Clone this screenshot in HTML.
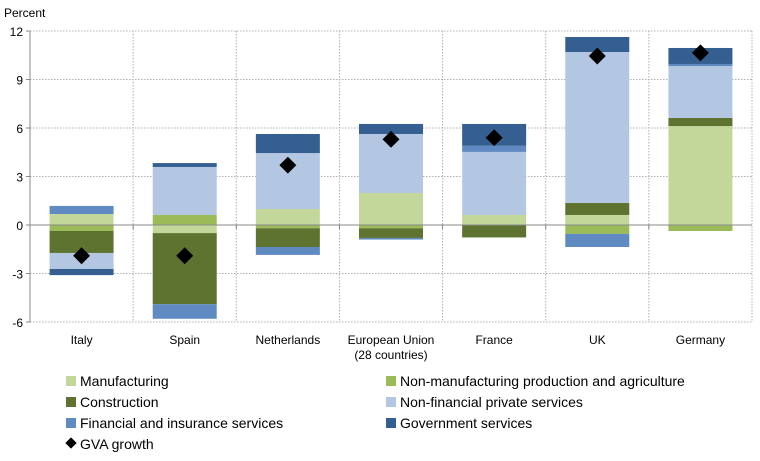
<!DOCTYPE html>
<html><head><meta charset="utf-8"><style>
body{margin:0;background:#fff;font-family:"Liberation Sans",Arial,sans-serif;}
svg text{font-family:"Liberation Sans",Arial,sans-serif;fill:#000;}
</style></head><body>
<svg id="chart" width="760" height="456" viewBox="0 0 760 456" xmlns="http://www.w3.org/2000/svg">
<text x="4" y="17" font-size="12">Percent</text>
<g id="grid"></g><g id="bars"></g><g id="axes"></g><g id="pts"></g><g id="legend"></g>
</svg>
<script>
const categories=["Italy","Spain","Netherlands","European Union|(28 countries)","France","UK","Germany"];
const manufacturing=[0.68,-0.5,0.99,1.98,0.62,0.62,6.12];
const nonManufacturing=[-0.37,0.62,-0.2,-0.2,-0.02,-0.55,-0.37];
const construction=[-1.36,-4.4,-1.16,-0.6,-0.75,0.74,0.5];
const nonFinancial=[-0.99,2.97,3.46,3.65,3.9,9.34,3.21];
const financial=[0.5,-0.9,-0.49,-0.1,0.38,-0.81,0.13];
const government=[-0.38,0.24,1.18,0.62,1.35,0.93,0.99];
const gvaGrowth=[-1.9,-1.9,3.7,5.3,5.4,10.45,10.65];
const yTicks=[-6,-3,0,3,6,9,12];
const seriesNames=["Manufacturing","Non-manufacturing production and agriculture","Construction","Non-financial private services","Financial and insurance services","Government services"];
const seriesColors=["#c4d79b","#9bbb59","#5e7330","#b3c7e2","#5f8bc2","#355f91"];
const seriesData=[manufacturing,nonManufacturing,construction,nonFinancial,financial,government];
const NS="http://www.w3.org/2000/svg";
const L=30,R=752,T=31,B=322,ymin=-6,ymax=12;
const y=v=>T+(ymax-v)/(ymax-ymin)*(B-T);
const band=(R-L)/categories.length;
const xc=i=>L+band*(i+0.5);
function mk(tag,attrs,parent){const e=document.createElementNS(NS,tag);for(const k in attrs)e.setAttribute(k,attrs[k]);document.getElementById(parent).appendChild(e);return e;}
yTicks.forEach(t=>{
 if(t!==0){const g=mk("line",{x1:L,x2:R,y1:y(t),y2:y(t),stroke:"#b0b0b0","stroke-dasharray":"1.5,1.5"},"grid");
 
 }
 const tk=mk("line",{x1:L-4,x2:L,y1:y(t),y2:y(t),stroke:"#888"},"axes");
 
 
 const tx=mk("text",{x:L-7,y:y(t)+5,"text-anchor":"end","font-size":"12"},"axes");tx.textContent=t;
 
 
});
for(let i=1;i<=categories.length;i++){const x=L+band*i;
 const g=mk("line",{x1:x,x2:x,y1:T,y2:B,stroke:"#b0b0b0","stroke-dasharray":"1.5,1.5"},"grid");
 
 
}
categories.forEach((c,i)=>{
 let pos=0,neg=0;
 seriesData.forEach((s,k)=>{const v=s[i];let a,b;
  if(v>=0){a=pos;b=pos+v;pos=b;}else{a=neg;b=neg+v;neg=b;}
  const r=mk("rect",{x:xc(i)-32,width:64,y:y(Math.max(a,b)),height:Math.abs(y(a)-y(b)),fill:seriesColors[k]},"bars");
  
  
 });
 const parts=c.split("|");
 parts.forEach((p,j)=>{const t=mk("text",{x:xc(i),y:344+j*15,"text-anchor":"middle","font-size":"12"},"axes");t.textContent=p;
  
  });
 const xt=mk("line",{x1:L+band*i,x2:L+band*i,y1:y(0),y2:y(0)+4,stroke:"#888"},"axes");
 
 
 const d=mk("rect",{x:xc(i)-6,y:y(gvaGrowth[i])-6,width:12,height:12,fill:"#000",transform:`rotate(45 ${xc(i)} ${y(gvaGrowth[i])})`},"pts");
 
 
});
const ax=mk("line",{x1:L,x2:L,y1:T,y2:B,stroke:"#888"},"axes");


const zx=mk("line",{x1:L,x2:R,y1:y(0),y2:y(0),stroke:"#888"},"axes");


seriesNames.forEach((n,k)=>{const col=k%2,row=Math.floor(k/2);const lx=col?386:66,ly=381+row*21;
 const s=mk("rect",{x:lx,y:ly-5,width:10,height:10,fill:seriesColors[k]},"legend");
 
 
 const t=mk("text",{x:lx+14,y:ly+5,"font-size":"14"},"legend");t.textContent=n;
 
 
});
const ld=mk("rect",{x:67,y:439,width:8,height:8,fill:"#000",transform:"rotate(45 71 443)"},"legend");


const lt=mk("text",{x:80,y:449,"font-size":"14"},"legend");lt.textContent="GVA growth";


</script>
</body></html>
